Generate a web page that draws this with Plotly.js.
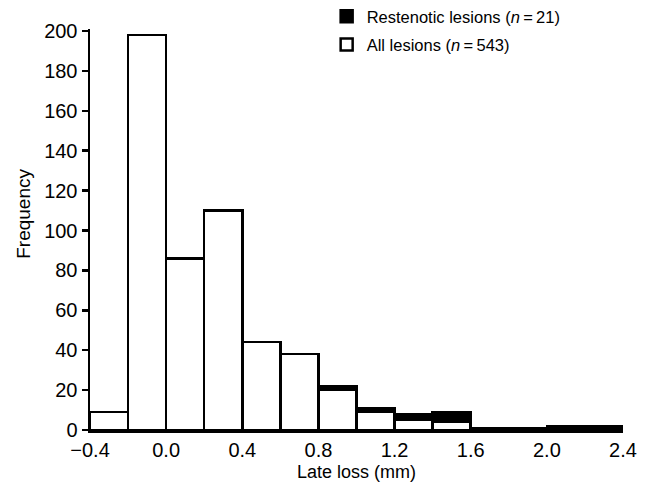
<!DOCTYPE html>
<html>
<head>
<meta charset="utf-8">
<script src="https://cdn.plot.ly/plotly-3.0.1.min.js"></script>
<style>html,body{margin:0;padding:0;background:#fff;}#chart{width:649px;height:493px;}</style>
</head>
<body>
<div id="chart"></div>
<script>
// Bin centres (bin width 0.2 mm)
var binCenters = [-0.3, -0.1, 0.1, 0.3, 0.5, 0.7, 0.9, 1.1, 1.3, 1.5, 1.7, 1.9, 2.1, 2.3];
// Total bar height (all lesions) per bin
var allLesions = [9, 198, 86, 110, 44, 38, 22, 11, 8, 9, 1, 1, 2, 2];
// Restenotic lesions per bin (black part)
var restenotic = [0, 0, 0, 0, 0, 0, 2, 2, 3, 5, 0, 0, 2, 2];
var xTicks = [-0.4, 0.0, 0.4, 0.8, 1.2, 1.6, 2.0, 2.4];
var yTicks = [0, 20, 40, 60, 80, 100, 120, 140, 160, 180, 200];

var whitePart = allLesions.map(function (v, i) { return v - restenotic[i]; });

var fam = '"Liberation Sans", Arial, sans-serif';
function f(s) { return {family: fam, size: s, color: '#000'}; }

var traces = [
  {
    type: 'bar', x: binCenters, y: whitePart, width: 0.2,
    name: 'All lesions (<i>n</i>\u2009=\u2009543)', legendgroup: 'b',
    marker: {color: '#fff', line: {color: '#000', width: 2.5}},
    legendrank: 2, hoverinfo: 'x+y'
  },
  {
    type: 'bar', x: binCenters, y: restenotic, width: 0.2,
    name: 'Restenotic lesions (<i>n</i>\u2009=\u200921)', legendgroup: 'a',
    marker: {color: '#000', line: {color: '#000', width: 2.5}},
    legendrank: 1, hoverinfo: 'x+y'
  }
];

var layout = {
  width: 649, height: 493,
  margin: {l: 90, r: 26, t: 29, b: 63, autoexpand: false},
  paper_bgcolor: '#fff', plot_bgcolor: '#fff',
  barmode: 'stack', bargap: 0,
  font: f(18),
  showlegend: true,
  legend: {
    x: 0.444, y: 1.075, xanchor: 'left', yanchor: 'top',
    bgcolor: 'rgba(0,0,0,0)', font: f(16.5),
    traceorder: 'grouped', itemwidth: 30, tracegroupgap: 4
  },
  xaxis: {
    range: [-0.4, 2.4], tickvals: xTicks, tickformat: '.1f',
    ticks: '', showgrid: false, zeroline: false,
    showline: true, linecolor: '#000', linewidth: 2.5,
    tickfont: f(20),
    title: {text: 'Late loss (mm)', font: f(18), standoff: 6}
  },
  yaxis: {
    range: [0, 201], tickvals: yTicks,
    ticks: 'outside', ticklen: 6, tickwidth: 2.5, tickcolor: '#000',
    showgrid: false, zeroline: false,
    showline: true, linecolor: '#000', linewidth: 2.5,
    tickfont: f(20)
  },
  annotations: [
    {
      text: 'Frequency', xref: 'paper', yref: 'paper',
      x: -0.124, y: 0.539, xanchor: 'center', yanchor: 'middle',
      textangle: -90, showarrow: false, font: f(19)
    }
  ]
};

Plotly.newPlot('chart', traces, layout, {displayModeBar: false, staticPlot: true});
</script>
</body>
</html>
